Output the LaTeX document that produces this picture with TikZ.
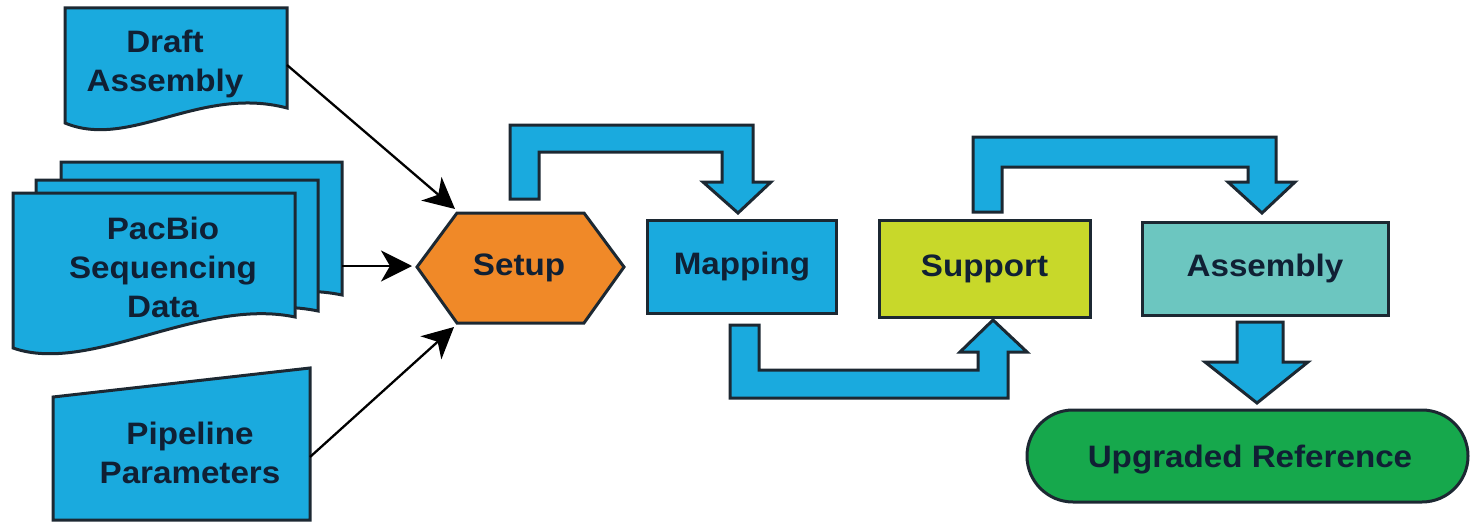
\documentclass[tikz,border=0pt]{standalone}
\usepackage{fontspec}
\setmainfont{Liberation Sans}[FakeStretch=1.07]
\usetikzlibrary{arrows.meta}

\definecolor{flowblue}{RGB}{26,170,222}
\definecolor{setuporange}{RGB}{240,137,40}
\definecolor{supportlime}{RGB}{200,216,42}
\definecolor{assemblyteal}{RGB}{108,198,192}
\definecolor{resultgreen}{RGB}{22,168,76}
\definecolor{edgedark}{RGB}{28,40,50}
\definecolor{labeldark}{RGB}{16,32,52}

\begin{document}
\begin{tikzpicture}[x=1pt,y=-1pt,
  shapeline/.style={draw=edgedark, line width=3pt, line join=miter},
  label/.style={text=labeldark, font=\fontsize{31}{39}\selectfont\bfseries,
                align=center, inner sep=0pt},
  procbox/.style={shapeline, rectangle, text=labeldark,
                  font=\fontsize{31}{39}\selectfont\bfseries, inner sep=0pt},
  blockarrow/.style={shapeline, fill=flowblue},
  feed/.style={draw=black, line width=2.3pt,
               -{Stealth[length=31pt,width=31pt,inset=9pt]}}
]
\useasboundingbox (0,0) rectangle (1470,527);

% ---------- inputs ----------
% draft assembly (document sheet)
\path[shapeline, fill=flowblue] (65,8) -- (287,8) -- (287,108)
  .. controls (200,85) and (130,150) .. (65,123) -- cycle;
\node[label] (draft) at (165,64) {Draft\\Assembly};
\coordinate (draftout) at (287,65);

% sequencing data (stack of three sheets)
\path[shapeline, fill=flowblue] (61,162) -- (342,162) -- (342,295)
  .. controls (247,275) and (138,344) .. (61,317) -- cycle;
\path[shapeline, fill=flowblue] (36,180) -- (318,180) -- (318,311)
  .. controls (223,291) and (113,360) .. (36,335) -- cycle;
\path[shapeline, fill=flowblue] (13,193) -- (295,193) -- (295,317)
  .. controls (200,297) and (90,375) .. (13,348) -- cycle;
\node[label] (pacbio) at (163,267) {PacBio\\Sequencing\\Data};
\coordinate (pacbioout) at (342,266);

% pipeline parameters (manual input)
\path[shapeline, fill=flowblue] (53,397) -- (310,368) -- (310,520)
  -- (53,520) -- cycle;
\node[label] (pipeline) at (190,453) {Pipeline\\Parameters};
\coordinate (pipelineout) at (310,457);

% ---------- setup hexagon ----------
\path[shapeline, fill=setuporange] (417,267) -- (457,213) -- (584,213)
  -- (624,267) -- (584,323) -- (457,323) -- cycle;
\node[label] (setup) at (519,268) {Setup};
\coordinate (setupnw) at (455,209);
\coordinate (setupw)  at (412,266);
\coordinate (setupsw) at (454,327);

% ---------- processing stages ----------
\node[procbox, fill=flowblue, minimum width=189pt, minimum height=93pt]
  (mapping) at (742,266.5) {Mapping};
\node[procbox, fill=supportlime, minimum width=211pt, minimum height=97pt]
  (support) at (984.5,268.5) {Support};
\node[procbox, fill=assemblyteal, minimum width=246pt, minimum height=93pt]
  (assembly) at (1265,268.5) {Assembly};
\node[procbox, fill=resultgreen, minimum width=441pt, minimum height=92pt,
      rounded corners=46pt]
  (upgraded) at (1247.5,456) {};
\node[label] (upgradedtext) at (1250,460) {Upgraded Reference};

% ---------- input connectors ----------
\draw[feed] (draftout) -- (setupnw);
\draw[feed] (pacbioout) -- (setupw);
\draw[feed] (pipelineout) -- (setupsw);

% ---------- block arrows ----------
% setup -> mapping
\path[blockarrow] (510,199) -- (510,125) -- (753,125) -- (753,182)
  -- (771,182) -- (738,213) -- (703,182) -- (722,182) -- (722,152)
  -- (539,152) -- (539,199) -- cycle;
% mapping -> support
\path[blockarrow] (730,325) -- (730,398) -- (1008,398) -- (1008,352)
  -- (1027,352) -- (993,320) -- (960,352) -- (978,352) -- (978,370)
  -- (759,370) -- (759,325) -- cycle;
% support -> assembly
\path[blockarrow] (973,212) -- (973,137) -- (1276,137) -- (1276,182)
  -- (1295,182) -- (1262,213) -- (1228,182) -- (1248,182) -- (1248,167)
  -- (1002,167) -- (1002,212) -- cycle;
% assembly -> upgraded reference
\path[blockarrow] (1237,322) -- (1283,322) -- (1283,362) -- (1308,362)
  -- (1257,403) -- (1205,362) -- (1237,362) -- cycle;

\end{tikzpicture}
\end{document}
